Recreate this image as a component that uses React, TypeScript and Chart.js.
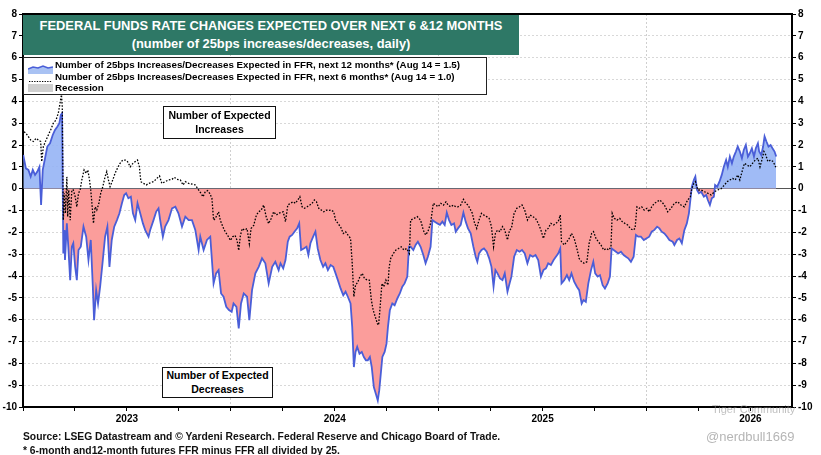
import { useEffect, useRef } from "react";
import { Chart, registerables } from "chart.js";

Chart.register(...registerables);

// ---- data (x = years elapsed since START_YEAR) ----
const START_YEAR = 2023;
const END_OFFSET = 3.70;
const yearLabels = ["2023", "2024", "2025", "2026"];
const yMin = -10;
const yMax = 8;

const t12 = [
  0.001, 0.014, 0.026, 0.037, 0.047, 0.058, 0.069, 0.079, 0.087, 0.095, 0.106, 0.117, 0.130, 0.143, 0.154, 0.165, 0.175, 0.182, 0.188,
  0.194, 0.198, 0.202, 0.211, 0.218, 0.227, 0.235, 0.242, 0.251, 0.259, 0.267, 0.278, 0.291, 0.304, 0.315, 0.326, 0.336, 0.342, 0.352,
  0.361, 0.371, 0.384, 0.395, 0.406, 0.416, 0.427, 0.439, 0.452, 0.464, 0.476, 0.487, 0.496, 0.507, 0.519, 0.529, 0.540, 0.551, 0.564,
  0.577, 0.588, 0.604, 0.612, 0.628, 0.641, 0.652, 0.660, 0.673, 0.684, 0.700, 0.717, 0.733, 0.748, 0.765, 0.781, 0.797, 0.813, 0.829,
  0.845, 0.853, 0.869, 0.885, 0.901, 0.917, 0.929, 0.941, 0.953, 0.965, 0.978, 0.991, 1.004, 1.013, 1.027, 1.038, 1.049, 1.062, 1.078,
  1.089, 1.102, 1.118, 1.134, 1.150, 1.166, 1.182, 1.199, 1.214, 1.230, 1.239, 1.252, 1.263, 1.274, 1.283, 1.295, 1.306, 1.319, 1.329,
  1.338, 1.351, 1.364, 1.373, 1.383, 1.396, 1.407, 1.418, 1.431, 1.444, 1.455, 1.467, 1.480, 1.493, 1.504, 1.515, 1.528, 1.541, 1.552,
  1.563, 1.576, 1.584, 1.592, 1.600, 1.608, 1.619, 1.630, 1.640, 1.650, 1.659, 1.669, 1.678, 1.688, 1.698, 1.707, 1.714, 1.720, 1.729,
  1.740, 1.749, 1.756, 1.765, 1.777, 1.788, 1.801, 1.813, 1.825, 1.836, 1.849, 1.857, 1.865, 1.878, 1.889, 1.900, 1.913, 1.926, 1.937,
  1.948, 1.961, 1.970, 1.981, 1.994, 2.006, 2.018, 2.029, 2.039, 2.050, 2.061, 2.074, 2.082, 2.093, 2.106, 2.119, 2.130, 2.141, 2.154,
  2.167, 2.178, 2.186, 2.194, 2.206, 2.218, 2.231, 2.243, 2.254, 2.264, 2.273, 2.283, 2.295, 2.307, 2.318, 2.331, 2.341, 2.350, 2.363,
  2.376, 2.389, 2.401, 2.414, 2.427, 2.440, 2.453, 2.466, 2.479, 2.492, 2.504, 2.516, 2.527, 2.540, 2.553, 2.564, 2.575, 2.585, 2.591,
  2.604, 2.617, 2.628, 2.639, 2.652, 2.665, 2.676, 2.688, 2.697, 2.708, 2.720, 2.733, 2.744, 2.753, 2.765, 2.776, 2.789, 2.800, 2.813,
  2.824, 2.832, 2.842, 2.853, 2.864, 2.877, 2.890, 2.901, 2.912, 2.925, 2.938, 2.949, 2.960, 2.973, 2.987, 2.999, 3.013, 3.025, 3.038,
  3.051, 3.062, 3.073, 3.086, 3.099, 3.110, 3.126, 3.134, 3.147, 3.158, 3.170, 3.182, 3.194, 3.204, 3.211, 3.218, 3.228, 3.235, 3.243,
  3.252, 3.263, 3.276, 3.287, 3.295, 3.305, 3.314, 3.324, 3.330, 3.340, 3.351, 3.362, 3.372, 3.383, 3.391, 3.401, 3.411, 3.420, 3.430,
  3.439, 3.449, 3.459, 3.468, 3.478, 3.488, 3.497, 3.507, 3.517, 3.526, 3.536, 3.542, 3.552, 3.561, 3.568, 3.577, 3.587, 3.597, 3.606,
  3.616, 3.624,
];
const v12 = [
  1.54, 0.93, 0.86, 0.55, 0.86, 0.63, 0.78, 1.0, -0.75, 0.86, 1.39, 1.93, 2.08, 2.46, 2.69, 2.84, 3.0, 3.38, 3.45,
  -2.97, -1.9, -3.27, -1.59, -2.66, -4.19, -2.66, -2.5, -3.58, -4.19, -2.81, -2.66, -1.74, -2.2, -3.27, -2.35, -4.5, -6.02, -4.65,
  -5.26, -4.5, -3.27, -2.2, -1.74, -3.58, -2.35, -1.74, -1.44, -1.13, -0.67, -0.29, -0.21, -0.44, -0.37, -1.13, -1.44, -0.67, -1.13,
  -1.59, -1.9, -2.2, -1.89, -1.44, -1.05, -0.9, -1.44, -2.2, -1.74, -1.44, -0.9, -0.83, -1.13, -1.74, -1.28, -1.44, -1.44, -1.89,
  -2.81, -2.2, -2.81, -2.35, -2.2, -4.34, -3.88, -3.73, -4.8, -4.95, -5.41, -5.56, -5.64, -5.26, -5.41, -6.4, -5.26, -4.8, -4.95,
  -6.02, -4.65, -3.88, -3.58, -3.19, -3.42, -4.34, -3.58, -3.35, -3.73, -3.42, -3.65, -3.27, -2.43, -2.2, -2.12, -1.97, -1.82, -1.59,
  -2.81, -2.74, -2.66, -3.04, -2.5, -2.2, -1.97, -2.74, -3.27, -3.58, -3.42, -3.73, -3.5, -3.58, -3.88, -4.19, -4.57, -4.88, -4.72,
  -4.95, -5.26, -6.33, -8.17, -7.48, -7.25, -7.56, -7.48, -7.71, -7.86, -7.86, -7.71, -8.17, -9.09, -9.4, -9.7, -9.24, -8.63, -7.71,
  -7.48, -7.1, -6.33, -5.57, -5.26, -5.34, -5.03, -4.8, -4.49, -4.34, -4.03, -2.66, -2.66, -2.81, -2.58, -2.43, -2.66, -3.04, -3.42,
  -3.12, -2.66, -1.44, -1.51, -1.59, -1.66, -1.51, -1.66, -1.1, -1.44, -1.66, -1.59, -1.97, -1.82, -1.66, -1.1, -1.51, -1.82, -2.05,
  -2.66, -3.12, -3.35, -2.97, -2.81, -2.74, -2.89, -3.19, -3.58, -4.49, -3.73, -3.88, -4.11, -4.19, -3.88, -4.72, -4.34, -4.03, -3.12,
  -2.81, -2.89, -2.81, -2.97, -3.42, -3.04, -3.12, -3.04, -3.27, -4.03, -3.73, -3.65, -3.42, -3.5, -3.27, -3.12, -2.97, -2.74, -4.34,
  -4.19, -3.96, -4.19, -3.88, -4.26, -4.49, -4.65, -5.26, -5.1, -5.18, -4.34, -3.73, -3.35, -3.88, -4.03, -3.96, -4.42, -4.57, -4.34,
  -4.03, -2.74, -2.81, -2.89, -2.97, -2.89, -3.04, -3.12, -3.19, -3.35, -3.12, -2.12, -2.2, -2.2, -2.35, -2.28, -2.2, -1.97, -1.89,
  -1.74, -1.82, -1.97, -2.05, -2.2, -2.35, -2.43, -2.58, -2.35, -2.28, -2.5, -1.9, -1.59, -1.13, -0.52, 0.09, 0.4, 0.55, -0.06,
  -0.21, -0.14, -0.37, -0.29, -0.52, -0.75, -0.44, -0.37, 0.17, 0.09, 0.32, 0.63, 1.0, 1.31, 1.0, 1.47, 1.16, 1.47, 1.7,
  1.93, 1.7, 1.39, 1.77, 2.0, 1.47, 1.62, 1.85, 1.47, 1.85, 2.08, 1.7, 1.54, 1.93, 2.39, 2.16, 1.93, 2.0, 1.85,
  1.7, 1.47,
];

const t6 = [
  0.005, 0.014, 0.026, 0.037, 0.050, 0.063, 0.074, 0.085, 0.090, 0.098, 0.111, 0.122, 0.133, 0.146, 0.159, 0.170, 0.178, 0.185, 0.189,
  0.194, 0.199, 0.204, 0.211, 0.215, 0.220, 0.227, 0.235, 0.242, 0.251, 0.259, 0.267, 0.275, 0.283, 0.294, 0.304, 0.312, 0.320, 0.326,
  0.333, 0.339, 0.347, 0.355, 0.365, 0.374, 0.384, 0.395, 0.403, 0.411, 0.419, 0.432, 0.443, 0.454, 0.467, 0.480, 0.492, 0.503, 0.516,
  0.529, 0.540, 0.551, 0.560, 0.567, 0.580, 0.593, 0.604, 0.628, 0.644, 0.657, 0.668, 0.684, 0.700, 0.717, 0.728, 0.741, 0.757, 0.770,
  0.781, 0.797, 0.813, 0.829, 0.845, 0.856, 0.866, 0.877, 0.888, 0.898, 0.909, 0.917, 0.925, 0.933, 0.941, 0.949, 0.962, 0.973, 0.985,
  0.998, 1.009, 1.020, 1.030, 1.038, 1.046, 1.055, 1.065, 1.078, 1.089, 1.097, 1.110, 1.123, 1.134, 1.146, 1.158, 1.170, 1.182, 1.194,
  1.206, 1.219, 1.230, 1.252, 1.263, 1.274, 1.287, 1.300, 1.311, 1.322, 1.332, 1.343, 1.354, 1.367, 1.380, 1.391, 1.402, 1.412, 1.423,
  1.435, 1.447, 1.460, 1.471, 1.483, 1.495, 1.504, 1.515, 1.528, 1.541, 1.552, 1.563, 1.576, 1.584, 1.592, 1.600, 1.611, 1.621, 1.632,
  1.643, 1.656, 1.666, 1.676, 1.685, 1.695, 1.705, 1.711, 1.717, 1.727, 1.736, 1.746, 1.756, 1.762, 1.769, 1.782, 1.794, 1.807, 1.820,
  1.833, 1.846, 1.859, 1.865, 1.881, 1.897, 1.913, 1.926, 1.937, 1.948, 1.961, 1.974, 1.986, 1.997, 2.010, 2.023, 2.035, 2.045, 2.058,
  2.071, 2.082, 2.093, 2.106, 2.119, 2.130, 2.141, 2.154, 2.162, 2.173, 2.183, 2.194, 2.206, 2.218, 2.231, 2.243, 2.254, 2.264, 2.273,
  2.283, 2.295, 2.307, 2.318, 2.331, 2.341, 2.350, 2.363, 2.376, 2.389, 2.401, 2.414, 2.427, 2.440, 2.453, 2.466, 2.479, 2.492, 2.504,
  2.516, 2.527, 2.540, 2.553, 2.564, 2.575, 2.585, 2.591, 2.604, 2.617, 2.628, 2.639, 2.652, 2.665, 2.676, 2.688, 2.700, 2.713, 2.724,
  2.736, 2.745, 2.757, 2.768, 2.781, 2.794, 2.806, 2.819, 2.829, 2.835, 2.845, 2.858, 2.871, 2.883, 2.896, 2.909, 2.922, 2.935, 2.945,
  2.954, 2.965, 2.977, 2.989, 3.002, 3.013, 3.025, 3.038, 3.051, 3.062, 3.073, 3.086, 3.102, 3.118, 3.134, 3.150, 3.166, 3.182, 3.198,
  3.211, 3.218, 3.228, 3.235, 3.247, 3.263, 3.279, 3.295, 3.311, 3.327, 3.343, 3.359, 3.375, 3.388, 3.401, 3.414, 3.427, 3.439, 3.449,
  3.462, 3.471, 3.484, 3.497, 3.510, 3.523, 3.536, 3.546, 3.555, 3.565, 3.574, 3.584, 3.597, 3.610, 3.624,
];
const v6 = [
  2.61, 2.54, 2.38, 2.23, 2.16, 2.31, 2.23, 2.16, 1.24, 1.93, 2.23, 2.46, 2.69, 3.0, 3.15, 3.46, 3.91, 4.3, 3.76,
  -1.44, -0.21, -1.13, 0.55, -1.28, -0.06, -1.44, -0.06, -0.06, -0.37, -0.83, -0.21, -0.06, 0.4, 0.86, 0.7, 0.86, 0.4, -0.06,
  -0.83, -1.59, -0.83, -0.98, -0.67, -0.21, 0.09, 0.55, 0.78, 0.4, 0.09, 0.4, 0.7, 0.93, 1.16, 1.31, 1.31, 1.24, 1.0,
  1.16, 1.24, 1.31, 1.0, 0.32, 0.24, 0.17, 0.24, 0.32, 0.47, 0.58, 0.24, 0.32, 0.4, 0.43, 0.52, 0.43, 0.4, 0.17,
  0.32, 0.24, 0.21, 0.17, -0.06, -0.21, -0.37, -0.14, -0.09, -0.21, -0.44, -1.44, -1.37, -1.21, -1.06, -1.44, -1.75, -1.98, -2.14,
  -2.37, -2.2, -2.14, -2.37, -2.83, -2.14, -1.83, -1.9, -1.83, -2.52, -1.83, -1.68, -1.21, -1.06, -0.98, -0.75, -1.29, -1.6, -1.37,
  -1.06, -1.21, -1.13, -1.06, -1.51, -0.75, -0.67, -0.6, -0.67, -0.52, -0.37, -0.83, -0.9, -0.83, -0.75, -0.67, -0.52, -0.6, -0.9,
  -0.98, -1.06, -0.98, -1.0, -0.98, -1.06, -1.44, -1.59, -1.75, -2.05, -1.97, -2.12, -2.28, -3.42, -4.95, -4.42, -4.27, -4.03, -3.88,
  -4.11, -4.19, -4.19, -5.1, -5.57, -5.87, -6.18, -6.25, -5.57, -4.34, -4.49, -4.19, -4.42, -3.58, -3.2, -2.97, -2.81, -2.74, -2.66,
  -2.81, -2.74, -2.97, -1.44, -1.36, -1.28, -1.44, -1.9, -2.12, -1.97, -1.59, -0.67, -0.75, -0.83, -0.67, -0.75, -0.6, -0.75, -0.83,
  -0.75, -0.83, -0.83, -0.75, -0.49, -0.67, -0.75, -0.98, -1.13, -1.59, -1.82, -1.44, -1.13, -1.21, -1.28, -1.36, -1.74, -2.66, -2.05,
  -1.9, -1.97, -1.74, -1.9, -2.35, -1.9, -1.82, -1.13, -0.9, -0.83, -0.75, -0.98, -1.44, -1.21, -1.28, -1.36, -1.59, -1.9, -2.28,
  -1.9, -1.82, -1.59, -1.66, -1.59, -1.51, -1.21, -2.43, -2.58, -2.43, -2.28, -2.05, -2.28, -2.74, -3.2, -3.35, -3.42, -3.35, -2.5,
  -2.05, -1.97, -2.28, -2.43, -2.58, -2.81, -2.74, -2.81, -2.66, -1.13, -1.36, -1.44, -1.36, -1.51, -1.59, -1.66, -1.82, -1.9, -1.82,
  -0.83, -0.9, -0.83, -0.98, -0.9, -1.06, -0.83, -0.67, -0.6, -0.52, -0.6, -0.75, -1.06, -0.9, -0.67, -0.6, -0.75, -0.83, -0.52,
  -0.37, 0.0, 0.24, 0.32, -0.06, -0.06, -0.14, -0.21, -0.29, -0.14, -0.06, 0.0, 0.17, 0.32, 0.4, 0.47, 0.4, 0.63, 0.4,
  0.86, 1.16, 1.08, 1.0, 1.16, 1.31, 1.39, 1.0, 1.31, 1.7, 1.54, 1.24, 1.31, 1.24, 0.93,
];

const titleLines = [
  "FEDERAL FUNDS RATE CHANGES EXPECTED OVER NEXT 6 &12 MONTHS",
  "(number of 25bps increases/decreases, daily)",
];
const legendLabels = [
  "Number of 25bps Increases/Decreases Expected in FFR, next 12 months* (Aug 14 = 1.5)",
  "Number of 25bps Increases/Decreases Expected in FFR, next 6 months* (Aug 14 = 1.0)",
  "Recession",
];
const footLines = [
  "Source: LSEG Datastream and \u00A9 Yardeni Research. Federal Reserve and Chicago Board of Trade.",
  "* 6-month and12-month futures FFR minus FFR all divided by 25.",
];

const FONT = "'Liberation Sans', Arial, Helvetica, sans-serif";
const BLUE_LINE = "#4a5ed8";
const BLUE_FILL = "rgba(150,180,245,0.9)";
const RED_FILL = "#fb9d9b";
const TEAL = "#2e7866";

const quarterTicks: number[] = [];
for (let q = 0; q <= Math.floor(END_OFFSET * 4); q++) quarterTicks.push(START_YEAR + q * 0.25);

export default function App() {
  const ref = useRef<HTMLCanvasElement | null>(null);

  useEffect(() => {
    document.body.style.margin = "0";
    const canvas = ref.current;
    if (!canvas) return;
    const tickFont = { family: FONT, size: 10, weight: "bold" as const };
    const topBorder = {
      id: "topBorder",
      afterDraw(chart: any) {
        const { ctx, chartArea } = chart;
        ctx.save();
        ctx.strokeStyle = "#000";
        ctx.lineWidth = 2;
        ctx.beginPath();
        ctx.moveTo(chartArea.left, chartArea.top);
        ctx.lineTo(chartArea.right, chartArea.top);
        ctx.stroke();
        ctx.restore();
      },
    };
    const chart = new Chart(canvas, {
      type: "line",
      data: {
        datasets: [
          {
            label: legendLabels[1],
            data: t6.map((t, i) => ({ x: START_YEAR + t, y: v6[i] })),
            borderColor: "#000",
            borderWidth: 1.3,
            borderDash: [1.6, 1.6],
            pointRadius: 0,
            fill: false,
            tension: 0,
            order: 1,
          },
          {
            label: legendLabels[0],
            data: t12.map((t, i) => ({ x: START_YEAR + t, y: v12[i] })),
            borderColor: BLUE_LINE,
            borderWidth: 1.8,
            pointRadius: 0,
            tension: 0,
            fill: { target: "origin", above: BLUE_FILL, below: RED_FILL },
            order: 2,
          },
        ],
      },
      options: {
        animation: false,
        responsive: false,
        layout: { padding: { top: 14, bottom: 20, left: 0, right: 0 } },
        plugins: {
          legend: { display: false },
          tooltip: { enabled: false },
          title: { display: false },
        },
        scales: {
          x: {
            type: "linear",
            min: START_YEAR,
            max: START_YEAR + END_OFFSET,
            afterBuildTicks: (s: any) => {
              s.ticks = quarterTicks.map((v) => ({ value: v }));
            },
            afterFit: (s: any) => {
              s.height = 28;
            },
            ticks: {
              autoSkip: false,
              maxRotation: 0,
              padding: 2,
              color: "#000",
              font: tickFont,
              callback: (v: any) => {
                const n = Number(v);
                const frac = n - Math.floor(n);
                if (Math.abs(frac - 0.5) < 1e-6) {
                  const idx = Math.floor(n) - START_YEAR;
                  return yearLabels[idx] ?? "";
                }
                return "";
              },
            },
            grid: {
              color: (c: any) =>
                c.tick && Number.isInteger(c.tick.value) && c.tick.value !== START_YEAR ? "#cfcfcf" : "rgba(0,0,0,0)",
              tickColor: "#000",
              tickLength: 4,
              lineWidth: 1,
            },
            border: { color: "#000", width: 2, dash: [2, 2] },
          },
          y: {
            position: "left",
            min: yMin,
            max: yMax,
            afterFit: (s: any) => {
              s.width = 23;
            },
            ticks: { stepSize: 1, padding: 2, color: "#000", font: tickFont },
            grid: {
              color: (c: any) => (c.tick && c.tick.value === 0 ? "#555" : "#d8d8d8"),
              tickColor: "#000",
              tickLength: 4,
              lineWidth: 1,
            },
            border: {
              color: "#000",
              width: 2,
              dash: (c: any) => (c.tick && c.tick.value === 0 ? [] : [2, 2]),
            },
          },
          y2: {
            position: "right",
            min: yMin,
            max: yMax,
            afterFit: (s: any) => {
              s.width = 29;
            },
            ticks: { stepSize: 1, padding: 2, color: "#000", font: tickFont },
            grid: { drawOnChartArea: false, tickColor: "#000", tickLength: 4 },
            border: { color: "#000", width: 2 },
          },
        },
      },
      plugins: [topBorder],
    } as any);
    return () => chart.destroy();
  }, []);

  const abs = (s: React.CSSProperties): React.CSSProperties => ({ position: "absolute", ...s });

  return (
    <div style={{ position: "absolute", left: 0, top: 0, width: 821, height: 455, background: "#fff", fontFamily: FONT, overflow: "hidden" }}>
      <canvas ref={ref} width={821} height={455} style={{ position: "absolute", left: 0, top: 0, width: 821, height: 455 }} />
      {/* title */}
      <div
        style={abs({
          left: 23, top: 15, width: 496, height: 40, background: TEAL, color: "#fff",
          fontWeight: "bold", textAlign: "center", display: "flex", flexDirection: "column", justifyContent: "center",
        })}
      >
        <div style={{ fontSize: 12.9, lineHeight: "18px" }}>{titleLines[0]}</div>
        <div style={{ fontSize: 12.9, lineHeight: "18px" }}>{titleLines[1]}</div>
      </div>
      {/* legend */}
      <div style={abs({ left: 23, top: 57, width: 462, height: 36, border: "1px solid #222", background: "#fff" })}>
        {legendLabels.map((lab, i) => (
          <div key={i} style={abs({ left: 0, top: 1 + i * 11.5, height: 11.5, width: 460 })}>
            <div style={abs({ left: 4, top: 1, width: 25, height: 10 })}>
              {i === 0 && (
                <svg width={25} height={10}>
                  <polygon points="0,5 5,3 10,4 15,2 20,4 25,3 25,10 0,10" fill="#a9c2f3" />
                  <polyline points="0,5 5,3 10,4 15,2 20,4 25,3" fill="none" stroke={BLUE_LINE} strokeWidth={1.6} />
                </svg>
              )}
              {i === 1 && (
                <svg width={25} height={10}>
                  <line x1={1} y1={5.5} x2={24} y2={5.5} stroke="#000" strokeWidth={1.2} strokeDasharray="1.3,1.3" />
                </svg>
              )}
              {i === 2 && <div style={{ width: 25, height: 8, marginTop: 1, background: "#cfcfcf" }} />}
            </div>
            <div style={abs({ left: 31, top: 0, fontSize: 9.75, fontWeight: "bold", lineHeight: "11.5px", whiteSpace: "nowrap", color: "#000" })}>
              {lab}
            </div>
          </div>
        ))}
      </div>
      {/* annotation boxes */}
      <div
        style={abs({
          left: 163, top: 106, width: 111, height: 30, border: "1.5px solid #111", background: "#fff",
          fontSize: 10.5, fontWeight: "bold", textAlign: "center", lineHeight: "14px", paddingTop: 1, boxSizing: "content-box", color: "#000",
        })}
      >
        <div>Number of Expected</div>
        <div>Increases</div>
      </div>
      <div
        style={abs({
          left: 162, top: 367, width: 109, height: 29, border: "1.5px solid #111", background: "#fff",
          fontSize: 10.5, fontWeight: "bold", textAlign: "center", lineHeight: "14px", color: "#000",
        })}
      >
        <div>Number of Expected</div>
        <div>Decreases</div>
      </div>
      {/* footer */}
      <div style={abs({ left: 23, top: 431, fontSize: 10.3, fontWeight: "bold", lineHeight: "12px", whiteSpace: "nowrap", color: "#111" })}>
        {footLines[0]}
      </div>
      <div style={abs({ left: 23, top: 445, fontSize: 10.3, fontWeight: "bold", lineHeight: "12px", whiteSpace: "nowrap", color: "#111" })}>
        {footLines[1]}
      </div>
      {/* watermark */}
      <div style={abs({ left: 712, top: 403, fontSize: 11, lineHeight: "13px", whiteSpace: "nowrap", color: "rgba(140,140,140,0.55)" })}>
        Tiger Community
      </div>
      <div style={abs({ left: 706, top: 429, fontSize: 13, lineHeight: "16px", whiteSpace: "nowrap", color: "rgba(150,150,150,0.7)" })}>
        @nerdbull1669
      </div>
    </div>
  );
}
